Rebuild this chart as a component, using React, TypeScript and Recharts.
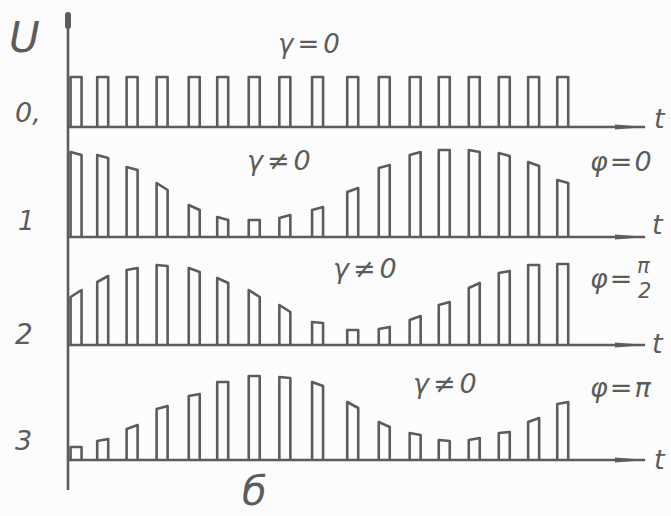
import React from 'react';
import { BarChart, Bar, XAxis, YAxis, ReferenceLine, ReferenceDot } from 'recharts';

// pulse centres, in pulse periods from the U axis
const pulseTimes = [0.26, 1.14, 2.11, 3.1, 4.16, 5.1, 6.14, 7.15, 8.23, 9.39, 10.43, 11.45, 12.41, 13.4, 14.39, 15.36, 16.32];

// pulse heights at the left and right edge of every pulse (same units for all rows)
const row0Left = [50, 50, 50, 50, 50, 50, 50, 50, 50, 50, 50, 50, 50, 50, 50, 50, 50];
const row0Right = [50, 50, 50, 50, 50, 50, 50, 50, 50, 50, 50, 50, 50, 50, 50, 50, 50];
const row1Left = [85, 82, 70, 54, 32, 20, 17, 19, 27, 45, 69, 82, 87, 87, 84, 75, 57];
const row1Right = [82, 79, 67, 47, 27, 17, 17, 22, 30, 49, 72, 85, 87, 85, 81, 71, 54];
const row2Left = [48, 63, 75, 80, 77, 67, 55, 40, 23, 15, 16, 25, 40, 57, 72, 80, 81];
const row2Right = [55, 69, 77, 79, 73, 62, 48, 33, 22, 15, 18, 29, 43, 62, 74, 80, 81];
const row3Left = [13, 19, 31, 51, 64, 78, 84, 83, 78, 58, 38, 27, 20, 20, 27, 38, 56];
const row3Right = [13, 21, 35, 54, 66, 78, 84, 82, 74, 52, 33, 25, 19, 22, 28, 42, 58];

const INK = '#5c5c5c';
const T_MAX = 19.04;
const PAD = 8;

const makeRow = (left: number[], right: number[]) =>
  pulseTimes.map((t, i) => ({ t, l: left[i], r: right[i] }));

const rows = [
  { data: makeRow(row0Left, row0Right), top: 13, domain: [0, 114], tip: true },
  { data: makeRow(row1Left, row1Right), top: 127, domain: [0, 110], tip: false },
  { data: makeRow(row2Left, row2Right), top: 237, domain: [0, 108], tip: false },
  { data: makeRow(row3Left, row3Right), top: 345, domain: [-30, 115], tip: false },
];

const Pulse = (props: any) => {
  const { x, y, width, height, payload } = props;
  if (!height || !payload) return null;
  const bottom = y + height;
  const hr = payload.l > 0 ? (height * payload.r) / payload.l : 0;
  return (
    <path
      d={`M${x},${bottom} L${x},${y} L${x + width},${bottom - hr} L${x + width},${bottom}`}
      fill="none"
      stroke={INK}
      strokeWidth={2.6}
      strokeLinejoin="round"
    />
  );
};

const Arrow = (props: any) => {
  const { cx, cy } = props;
  return <polygon points={`${cx - 30},${cy - 2.5} ${cx + 2},${cy} ${cx - 30},${cy + 2.5}`} fill={INK} />;
};

const AxisTip = (props: any) => {
  const { cx, cy } = props;
  return <rect x={cx - 3} y={cy - 1} width={6} height={17} rx={3} fill={INK} />;
};

const txt = { fill: INK, fontFamily: 'DejaVu Sans', fontStyle: 'italic' } as const;
const lbl = { ...txt, letterSpacing: 4 } as const;

export default function App() {
  return (
    <div style={{ position: 'absolute', left: 0, top: 0, width: 671, height: 516, background: '#fcfcfc', overflow: 'hidden' }}>
      {rows.map((row, i) => {
        const plotH = row.domain[1] - row.domain[0];
        return (
          <div key={i} style={{ position: 'absolute', left: 0, top: row.top - PAD }}>
            <BarChart
              width={671}
              height={plotH + PAD * 2}
              data={row.data}
              margin={{ top: PAD, right: 26, bottom: PAD, left: 68 }}
            >
              <XAxis type="number" dataKey="t" domain={[0, T_MAX]} hide />
              <YAxis type="number" domain={row.domain} hide allowDataOverflow />
              <ReferenceLine x={0} stroke={INK} strokeWidth={2.6} />
              <ReferenceLine y={0} stroke={INK} strokeWidth={2.6} />
              <ReferenceDot x={T_MAX} y={0} shape={Arrow} />
              {row.tip && <ReferenceDot x={0} y={row.domain[1]} shape={AxisTip} />}
              <Bar dataKey="l" barSize={11} shape={Pulse} isAnimationActive={false} />
            </BarChart>
          </div>
        );
      })}
      <svg width={671} height={516} style={{ position: 'absolute', left: 0, top: 0, pointerEvents: 'none' }}>
        <text x={9} y={52} fontSize={42} {...txt}>U</text>
        <text x={15} y={122} fontSize={27} {...txt}>0,</text>
        <text x={18} y={230} fontSize={26} {...txt}>1</text>
        <text x={15} y={344} fontSize={28} {...txt}>2</text>
        <text x={15} y={450} fontSize={27} {...txt}>3</text>

        <text x={278} y={53} fontSize={26} {...lbl}>γ=0</text>
        <text x={247} y={170} fontSize={27} {...lbl}>γ≠0</text>
        <text x={333} y={278} fontSize={27} {...lbl}>γ≠0</text>
        <text x={413} y={393} fontSize={27} {...lbl}>γ≠0</text>

        <text x={590} y={171} fontSize={27} {...txt} letterSpacing={2}>φ=0</text>
        <text x={590} y={288} fontSize={27} {...txt} letterSpacing={2}>φ=</text>
        <text x={637} y={273} fontSize={21} {...txt}>π</text>
        <text x={638} y={298} fontSize={21} {...txt}>2</text>
        <text x={590} y={397} fontSize={27} {...txt} letterSpacing={2}>φ=π</text>

        <text x={654} y={128} fontSize={27} {...txt}>t</text>
        <text x={652} y={234} fontSize={27} {...txt}>t</text>
        <text x={652} y={353} fontSize={27} {...txt}>t</text>
        <text x={654} y={469} fontSize={27} {...txt}>t</text>

        <text x={242} y={505} fontSize={40} {...txt}>б</text>
      </svg>
    </div>
  );
}
